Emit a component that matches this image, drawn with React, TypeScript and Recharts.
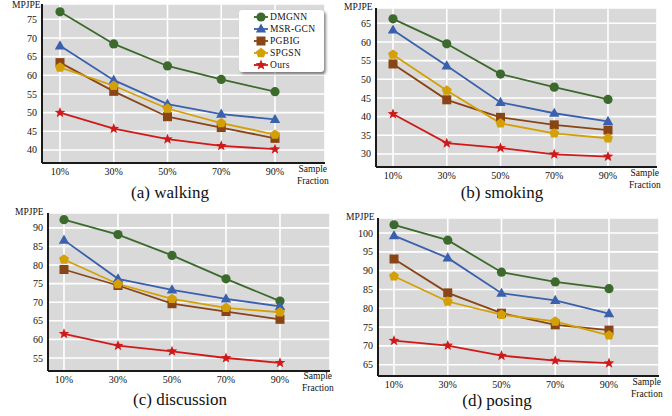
import React from "react";
import { CartesianGrid, Line, LineChart, XAxis, YAxis } from "recharts";

const fractions = ["10%", "30%", "50%", "70%", "90%"];
const methods = ["DMGNN", "MSR-GCN", "PGBIG", "SPGSN", "Ours"];

const walkingDmgnn = [77.0, 68.4, 62.5, 58.9, 55.6];
const walkingMsr = [67.9, 58.7, 52.3, 49.6, 48.2];
const walkingPgbig = [63.4, 55.7, 48.9, 46.0, 43.1];
const walkingSpgsn = [62.1, 57.2, 51.1, 47.2, 44.1];
const walkingOurs = [50.0, 45.7, 42.9, 41.1, 40.2];

const smokingDmgnn = [66.2, 59.5, 51.4, 47.9, 44.6];
const smokingMsr = [63.2, 53.6, 43.8, 40.9, 38.7];
const smokingPgbig = [54.1, 44.5, 39.8, 37.8, 36.4];
const smokingSpgsn = [56.6, 47.0, 38.2, 35.5, 34.2];
const smokingOurs = [40.7, 32.9, 31.6, 29.9, 29.3];

const discussionDmgnn = [92.2, 88.2, 82.6, 76.3, 70.3];
const discussionMsr = [86.7, 76.3, 73.3, 70.9, 68.9];
const discussionPgbig = [78.8, 74.5, 69.6, 67.5, 65.4];
const discussionSpgsn = [81.5, 74.9, 70.9, 68.5, 67.3];
const discussionOurs = [61.5, 58.3, 56.8, 55.0, 53.7];

const posingDmgnn = [102.2, 98.1, 89.6, 87.0, 85.2];
const posingMsr = [99.3, 93.4, 84.0, 82.1, 78.6];
const posingPgbig = [93.1, 84.1, 78.7, 75.6, 74.2];
const posingSpgsn = [88.5, 81.8, 78.3, 76.5, 72.8];
const posingOurs = [71.4, 70.1, 67.4, 66.1, 65.4];

const walkingTicks = [40, 45, 50, 55, 60, 65, 70, 75];
const smokingTicks = [30, 35, 40, 45, 50, 55, 60, 65];
const discussionTicks = [55, 60, 65, 70, 75, 80, 85, 90];
const posingTicks = [65, 70, 75, 80, 85, 90, 95, 100];

const COLORS = ["#3b6a2c", "#3a60ae", "#8a4516", "#d3a007", "#d01a1a"];
const SHAPES = ["circle", "triangle", "square", "pentagon", "star"];
const FONT = "'Liberation Serif', 'Times New Roman', Times, serif";

function polygon(cx: number, cy: number, n: number, r: number, inner?: number) {
  const pts: string[] = [];
  const count = inner ? n * 2 : n;
  for (let i = 0; i < count; i++) {
    const rad = inner && i % 2 === 1 ? inner : r;
    const a = -Math.PI / 2 + (i * 2 * Math.PI) / count;
    pts.push(`${cx + rad * Math.cos(a)},${cy + rad * Math.sin(a)}`);
  }
  return pts.join(" ");
}

function Marker({ shape, cx, cy, color }: { shape: string; cx: number; cy: number; color: string }) {
  switch (shape) {
    case "circle":
      return <circle cx={cx} cy={cy} r={4.6} fill={color} />;
    case "triangle":
      return <polygon points={`${cx},${cy - 5.6} ${cx + 5.2},${cy + 3.6} ${cx - 5.2},${cy + 3.6}`} fill={color} />;
    case "square":
      return <rect x={cx - 4.5} y={cy - 4.5} width={9} height={9} fill={color} />;
    case "pentagon":
      return <polygon points={polygon(cx, cy, 5, 5.2)} fill={color} />;
    default:
      return <polygon points={polygon(cx, cy, 5, 5.6, 2.4)} fill={color} />;
  }
}

function makeDot(shape: string, color: string) {
  return (props: any) => {
    const { cx, cy, index } = props;
    if (cx == null || cy == null) return <g key={`d-${index}`} />;
    return (
      <g key={`d-${shape}-${index}`}>
        <Marker shape={shape} cx={cx} cy={cy} color={color} />
      </g>
    );
  };
}

function buildRows(series: number[][]) {
  return fractions.map((f, i) => {
    const row: Record<string, any> = { fraction: f };
    methods.forEach((m, j) => {
      row[m] = series[j][i];
    });
    return row;
  });
}

function LegendBox() {
  return (
    <div
      style={{
        position: "absolute",
        left: 239,
        top: 10,
        width: 85,
        height: 62,
        background: "#fff",
        borderRadius: 3,
        boxShadow: "2px 2px 3px rgba(0,0,0,0.45)",
        fontFamily: FONT,
        fontSize: 9.5,
        color: "#111",
        paddingTop: 1,
        boxSizing: "border-box",
      }}
    >
      {methods.map((m, i) => (
        <div key={m} style={{ display: "flex", alignItems: "center", height: 12 }}>
          <svg width={30} height={12} style={{ flex: "none" }}>
            <line x1={15} x2={29} y1={6} y2={6} stroke={COLORS[i]} strokeWidth={1.8} />
            <Marker shape={SHAPES[i]} cx={22} cy={6} color={COLORS[i]} />
          </svg>
          <span style={{ marginLeft: 1, letterSpacing: 0.3 }}>{m}</span>
        </div>
      ))}
    </div>
  );
}

type Panel = {
  title: string;
  series: number[][];
  ticks: number[];
  domain: [number, number];
  left: number;
  top: number;
  height: number;
  yWidth: number;
  margin: { top: number; right: number };
  padding: { left: number; right: number };
  yLabel: { x: number; y: number };
  sample: { x: number; y: number };
  titlePos: { x: number; y: number };
  legend?: boolean;
};

const panels: Panel[] = [
  {
    title: "(a) walking",
    series: [walkingDmgnn, walkingMsr, walkingPgbig, walkingSpgsn, walkingOurs],
    ticks: walkingTicks,
    domain: [36.5, 79.1],
    left: 0,
    top: 0,
    height: 185,
    yWidth: 42,
    margin: { top: 4, right: 11 },
    padding: { left: 18, right: 50 },
    yLabel: { x: 12, y: 0 },
    sample: { x: 297, y: 163 },
    titlePos: { x: 170, y: 193 },
    legend: true,
  },
  {
    title: "(b) smoking",
    series: [smokingDmgnn, smokingMsr, smokingPgbig, smokingSpgsn, smokingOurs],
    ticks: smokingTicks,
    domain: [26.5, 69.1],
    left: 336,
    top: 0,
    height: 189,
    yWidth: 40,
    margin: { top: 8, right: 15 },
    padding: { left: 17, right: 49 },
    yLabel: { x: 344, y: 2 },
    sample: { x: 629, y: 167 },
    titlePos: { x: 502, y: 193 },
  },
  {
    title: "(c) discussion",
    series: [discussionDmgnn, discussionMsr, discussionPgbig, discussionSpgsn, discussionOurs],
    ticks: discussionTicks,
    domain: [51.5, 94.0],
    left: 0,
    top: 208,
    height: 185,
    yWidth: 48,
    margin: { top: 5, right: 6 },
    padding: { left: 16, right: 50 },
    yLabel: { x: 15, y: 207 },
    sample: { x: 302, y: 370 },
    titlePos: { x: 180, y: 400 },
  },
  {
    title: "(d) posing",
    series: [posingDmgnn, posingMsr, posingPgbig, posingSpgsn, posingOurs],
    ticks: posingTicks,
    domain: [62.0, 104.0],
    left: 336,
    top: 208,
    height: 190,
    yWidth: 42,
    margin: { top: 10, right: 13 },
    padding: { left: 16, right: 50 },
    yLabel: { x: 346, y: 212 },
    sample: { x: 631, y: 376 },
    titlePos: { x: 497, y: 401 },
  },
];

const textStyle: React.CSSProperties = {
  position: "absolute",
  fontFamily: FONT,
  color: "#111",
  whiteSpace: "nowrap",
};

function PanelChart({ p }: { p: Panel }) {
  const data = buildRows(p.series);
  return (
    <>
      <div style={{ position: "absolute", left: p.left, top: p.top }}>
        <LineChart
          width={336}
          height={p.height}
          data={data}
          margin={{ top: p.margin.top, right: p.margin.right, left: 0, bottom: 0 }}
        >
          <CartesianGrid fill="#d9d9d9" stroke="#ffffff" strokeWidth={1.6} />
          <XAxis
            dataKey="fraction"
            height={22}
            padding={p.padding}
            axisLine={{ stroke: "#1a1a1a", strokeWidth: 2 }}
            tickLine={false}
            tickSize={3}
            tickMargin={2}
            tick={{ fill: "#111", fontSize: 10, fontFamily: FONT }}
            interval={0}
          />
          <YAxis
            width={p.yWidth}
            domain={p.domain}
            ticks={p.ticks}
            type="number"
            interval={0}
            allowDataOverflow
            axisLine={{ stroke: "#1a1a1a", strokeWidth: 2 }}
            tickLine={false}
            tickSize={3}
            tickMargin={2}
            tick={{ fill: "#111", fontSize: 10, fontFamily: FONT }}
          />
          {methods.map((m, i) => (
            <Line
              key={m}
              dataKey={m}
              stroke={COLORS[i]}
              strokeWidth={1.8}
              dot={makeDot(SHAPES[i], COLORS[i])}
              activeDot={false}
              isAnimationActive={false}
            />
          ))}
        </LineChart>
      </div>
      {p.legend && <LegendBox />}
      <div style={{ ...textStyle, left: p.yLabel.x, top: p.yLabel.y, fontSize: 9.5 }}>MPJPE</div>
      <div style={{ ...textStyle, left: p.sample.x, top: p.sample.y, fontSize: 9.5, lineHeight: "12px", textAlign: "center" }}>
        Sample
        <br />
        Fraction
      </div>
      <div
        style={{
          ...textStyle,
          left: p.titlePos.x,
          top: p.titlePos.y,
          fontSize: 17,
          transform: "translate(-50%, -50%)",
        }}
      >
        {p.title}
      </div>
    </>
  );
}

export default function App() {
  return (
    <div
      style={{
        position: "absolute",
        left: 0,
        top: 0,
        width: 672,
        height: 416,
        background: "#fff",
        overflow: "hidden",
      }}
    >
      {panels.map((p) => (
        <PanelChart key={p.title} p={p} />
      ))}
    </div>
  );
}
